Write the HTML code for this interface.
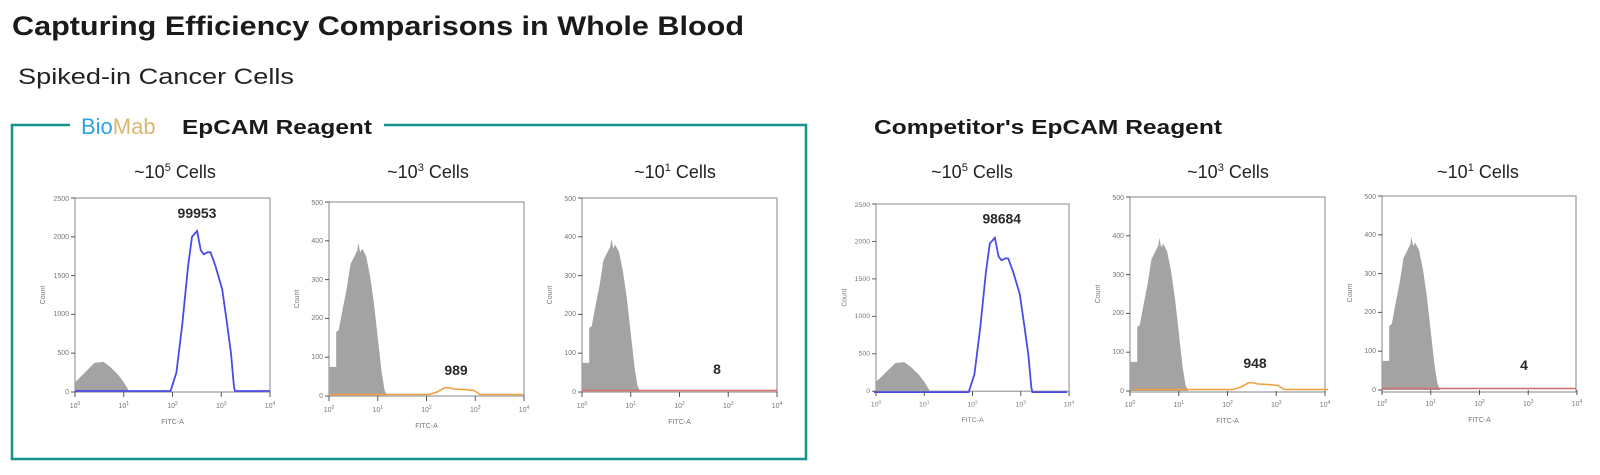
<!DOCTYPE html>
<html><head><meta charset="utf-8"><style>
html,body{margin:0;padding:0;background:#fff;width:1600px;height:475px;overflow:hidden}
svg{display:block}
.t{font-family:"Liberation Sans",sans-serif}
.tk{font-family:"Liberation Sans",sans-serif;font-size:7px;fill:#777}
.tx{font-family:"Liberation Sans",sans-serif;font-size:7px;fill:#777;text-anchor:middle}
.num{font-family:"Liberation Sans",sans-serif;font-size:14px;font-weight:bold;fill:#2a2a2a;text-anchor:middle}
.fr{fill:#fff;stroke:#999;stroke-width:1.2}
.gr{fill:#a3a3a3}
.bl{fill:none;stroke:#4a4ae8;stroke-width:1.8}
.or{fill:none;stroke:#f0a040;stroke-width:1.6}
.rd{stroke:#d07070;stroke-width:1.5}
.ax{stroke:#555;stroke-width:1}
</style></head><body>
<svg width="1600" height="475" viewBox="0 0 1600 475">
<defs>
<g id="xt">
<line x1="0" y1="194" x2="0" y2="199" class="ax"/><line x1="48.75" y1="194" x2="48.75" y2="199" class="ax"/><line x1="97.5" y1="194" x2="97.5" y2="199" class="ax"/><line x1="146.25" y1="194" x2="146.25" y2="199" class="ax"/><line x1="195" y1="194" x2="195" y2="199" class="ax"/>
<line x1="-4" y1="0" x2="0" y2="0" class="ax"/><line x1="-4" y1="38.8" x2="0" y2="38.8" class="ax"/><line x1="-4" y1="77.6" x2="0" y2="77.6" class="ax"/><line x1="-4" y1="116.4" x2="0" y2="116.4" class="ax"/><line x1="-4" y1="155.2" x2="0" y2="155.2" class="ax"/><line x1="-4" y1="194" x2="0" y2="194" class="ax"/>
<text class="tx" x="0" y="210">10<tspan dy="-3" font-size="5">0</tspan></text>
<text class="tx" x="48.75" y="210">10<tspan dy="-3" font-size="5">1</tspan></text>
<text class="tx" x="97.5" y="210">10<tspan dy="-3" font-size="5">2</tspan></text>
<text class="tx" x="146.25" y="210">10<tspan dy="-3" font-size="5">3</tspan></text>
<text class="tx" x="195" y="210">10<tspan dy="-3" font-size="5">4</tspan></text>
<text class="tx" x="97.5" y="226">FITC-A</text>
<text class="tk" transform="translate(-30,97) rotate(-90)" text-anchor="middle">Count</text>
</g>
<path id="gs" class="gr" d="M0,194 L0,184.3 L5.9,178.5 L13.7,170.7 L19.5,164.9 L28.5,163.9 L35.1,168.8 L42.9,176.5 L48.8,184.3 L54.6,194 Z"/>
<path id="gb" class="gr" d="M0,194 L0,164.9 L7.2,164.9 L7.2,130 L9.75,128 L13.7,106.7 L17.6,87.3 L21.5,62.1 L25.4,54.3 L28.3,48.5 L29.3,40.7 L31.2,50.4 L33.2,46.6 L37.1,54.3 L41,73.7 L44.9,100.9 L48.8,135.8 L52.7,170.7 L55.6,188.2 L58.5,194 Z"/>
<path id="bc" class="bl" d="M0,193 L95.6,193 L101.4,174.6 L107.3,126.1 L113.1,67.9 L117,38.8 L122.1,33 L125.8,52.4 L128.7,56.3 L132.6,54.3 L135.5,54.3 L140.4,67.9 L147.2,91.2 L152.1,126.1 L156,155.2 L158.9,188.2 L159.9,193 L195,193"/>
<path id="oc" class="or" d="M0,192.5 L100,192.5 L108,190 L115,186 L119,185.5 L125,187 L135,187.5 L145,188.5 L151,192.5 L195,192.5"/>
</defs>

<text class="t" x="12" y="35" font-size="27" font-weight="bold" fill="#1a1a1a" textLength="732" lengthAdjust="spacingAndGlyphs">Capturing Efficiency Comparisons in Whole Blood</text>
<text class="t" x="18" y="84" font-size="22" fill="#222" textLength="276" lengthAdjust="spacingAndGlyphs">Spiked-in Cancer Cells</text>

<path d="M70,125 L12,125 L12,459 L806,459 L806,125 L384,125" fill="none" stroke="#17938a" stroke-width="2.5"/>
<text class="t" x="81" y="134" font-size="22"><tspan fill="#2aa6dd">Bio</tspan><tspan fill="#d9b76f">Mab</tspan></text>
<text class="t" x="182" y="134" font-size="20" font-weight="bold" fill="#1a1a1a" textLength="190" lengthAdjust="spacingAndGlyphs">EpCAM Reagent</text>
<text class="t" x="874" y="134" font-size="20" font-weight="bold" fill="#1a1a1a" textLength="348" lengthAdjust="spacingAndGlyphs">Competitor's EpCAM Reagent</text>

<g class="t" font-size="18" fill="#222" text-anchor="middle">
<text x="175" y="178">~10<tspan dy="-7" font-size="11">5</tspan><tspan dy="7"> Cells</tspan></text>
<text x="428" y="178">~10<tspan dy="-7" font-size="11">3</tspan><tspan dy="7"> Cells</tspan></text>
<text x="675" y="178">~10<tspan dy="-7" font-size="11">1</tspan><tspan dy="7"> Cells</tspan></text>
<text x="972" y="178">~10<tspan dy="-7" font-size="11">5</tspan><tspan dy="7"> Cells</tspan></text>
<text x="1228" y="178">~10<tspan dy="-7" font-size="11">3</tspan><tspan dy="7"> Cells</tspan></text>
<text x="1478" y="178">~10<tspan dy="-7" font-size="11">1</tspan><tspan dy="7"> Cells</tspan></text>
</g>

<!-- P1 -->
<g transform="translate(75,198)">
<rect class="fr" x="0" y="0" width="195" height="194"/>
<use href="#gs"/><use href="#bc"/><use href="#xt"/>
<text class="tk" x="-6" y="196" text-anchor="end">0</text><text class="tk" x="-6" y="157" text-anchor="end">500</text><text class="tk" x="-6" y="118" text-anchor="end">1000</text><text class="tk" x="-6" y="80" text-anchor="end">1500</text><text class="tk" x="-6" y="41" text-anchor="end">2000</text><text class="tk" x="-6" y="3" text-anchor="end">2500</text>
<text class="num" x="122" y="20">99953</text>
</g>
<!-- P2 -->
<g transform="translate(329,202)">
<rect class="fr" x="0" y="0" width="195" height="194"/>
<use href="#gb"/><use href="#oc"/><use href="#xt"/>
<text class="tk" x="-6" y="196" text-anchor="end">0</text><text class="tk" x="-6" y="157" text-anchor="end">100</text><text class="tk" x="-6" y="118" text-anchor="end">200</text><text class="tk" x="-6" y="80" text-anchor="end">300</text><text class="tk" x="-6" y="41" text-anchor="end">400</text><text class="tk" x="-6" y="3" text-anchor="end">500</text>
<text class="num" x="127" y="173">989</text>
</g>
<!-- P3 -->
<g transform="translate(582,198)">
<rect class="fr" x="0" y="0" width="195" height="194"/>
<use href="#gb"/><line x1="0" y1="192.5" x2="195" y2="192.5" class="rd"/><use href="#xt"/>
<text class="tk" x="-6" y="196" text-anchor="end">0</text><text class="tk" x="-6" y="157" text-anchor="end">100</text><text class="tk" x="-6" y="118" text-anchor="end">200</text><text class="tk" x="-6" y="80" text-anchor="end">300</text><text class="tk" x="-6" y="41" text-anchor="end">400</text><text class="tk" x="-6" y="3" text-anchor="end">500</text>
<text class="num" x="135" y="176">8</text>
</g>
<!-- P4 -->
<g transform="translate(876,204) scale(0.99,0.965)">
<rect class="fr" x="0" y="0" width="195" height="194"/>
<use href="#gs"/><use href="#bc" transform="translate(-2,2)"/><use href="#xt"/>
<text class="tk" x="-6" y="196" text-anchor="end">0</text><text class="tk" x="-6" y="157" text-anchor="end">500</text><text class="tk" x="-6" y="118" text-anchor="end">1000</text><text class="tk" x="-6" y="80" text-anchor="end">1500</text><text class="tk" x="-6" y="41" text-anchor="end">2000</text><text class="tk" x="-6" y="3" text-anchor="end">2500</text>
<text class="num" x="127" y="20">98684</text>
</g>
<!-- P5 -->
<g transform="translate(1130,197)">
<rect class="fr" x="0" y="0" width="195" height="195"/>
<use href="#gb"/><use href="#oc" transform="translate(3,0)"/><use href="#xt"/>
<text class="tk" x="-6" y="196" text-anchor="end">0</text><text class="tk" x="-6" y="157" text-anchor="end">100</text><text class="tk" x="-6" y="118" text-anchor="end">200</text><text class="tk" x="-6" y="80" text-anchor="end">300</text><text class="tk" x="-6" y="41" text-anchor="end">400</text><text class="tk" x="-6" y="3" text-anchor="end">500</text>
<text class="num" x="125" y="171">948</text>
</g>
<!-- P6 -->
<g transform="translate(1382,196)">
<rect class="fr" x="0" y="0" width="194" height="196"/>
<use href="#gb"/><line x1="0" y1="192.5" x2="194" y2="192.5" class="rd"/><use href="#xt"/>
<text class="tk" x="-6" y="196" text-anchor="end">0</text><text class="tk" x="-6" y="157" text-anchor="end">100</text><text class="tk" x="-6" y="118" text-anchor="end">200</text><text class="tk" x="-6" y="80" text-anchor="end">300</text><text class="tk" x="-6" y="41" text-anchor="end">400</text><text class="tk" x="-6" y="3" text-anchor="end">500</text>
<text class="num" x="142" y="174">4</text>
</g>
</svg>
</body></html>
